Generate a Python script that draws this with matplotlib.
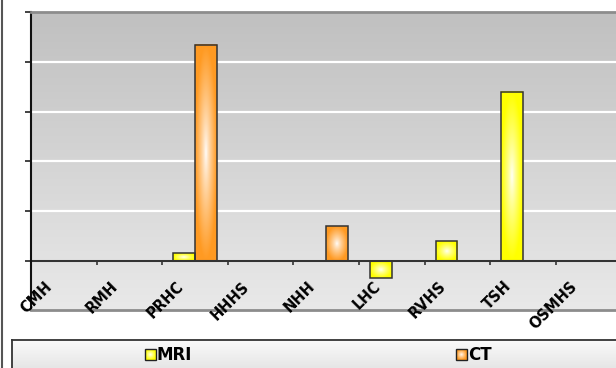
import numpy as np
import matplotlib
matplotlib.use("Agg")
import matplotlib.pyplot as plt
from matplotlib.patches import Rectangle
from matplotlib.lines import Line2D
from matplotlib.colors import to_rgb

# ---- data -------------------------------------------------------------
hospitals = ["CMH", "RMH", "PRHC", "HHHS", "NHH", "LHC", "RVHS", "TSH", "OSMHS"]
mri = [np.nan, np.nan, 0.16, np.nan, np.nan, -0.34, 0.40, 3.40, np.nan]
ct = [np.nan, np.nan, 4.34, np.nan, 0.70, np.nan, np.nan, np.nan, np.nan]
series_names = ["MRI", "CT"]
series_values = [mri, ct]
series_colors = ["#ffff00", "#ff9a22"]
y_ticks = [0, 1, 2, 3, 4, 5]
y_range = (-0.98, 5)

# ---- canvas -----------------------------------------------------------
W, H = 616, 368
fig = plt.figure(figsize=(W / 100, H / 100), dpi=100)
fig.patch.set_facecolor("white")


def px_box(x0, y0, x1, y1):
    """Pixel box (origin top-left) -> figure-fraction rectangle."""
    return [x0 / W, 1 - y1 / H, (x1 - x0) / W, (y1 - y0) / H]


def radial_fill(ax, x0, x1, y0, y1, color, zorder=2, edge="#333333", lw=1.1):
    """Rectangle filled white at its centre, fading to `color` at the rim."""
    n = 80
    yy, xx = np.mgrid[-1:1:n * 1j, -1:1:n * 1j]
    t = np.clip(np.sqrt(xx ** 2 + yy ** 2), 0, 1) ** 0.8
    base = np.array(to_rgb(color))
    img = (1 - t)[..., None] * np.ones(3) + t[..., None] * base
    ax.imshow(img, extent=[x0, x1, y0, y1], aspect="auto", zorder=zorder,
              interpolation="bilinear")
    ax.add_patch(Rectangle((min(x0, x1), min(y0, y1)), abs(x1 - x0), abs(y1 - y0),
                           fill=False, edgecolor=edge, lw=lw, zorder=zorder + 1))


# ---- plot area --------------------------------------------------------
ax = fig.add_axes(px_box(31, 12, 621.4, 310))
ax.set_autoscale_on(False)
ncat = len(hospitals)
xlim = (-0.5, ncat - 0.5)

# vertical background gradient
g = np.linspace(0, 1, 256)[:, None, None]
top_c = np.array([192, 192, 192]) / 255
bot_c = np.array([233, 233, 233]) / 255
bg = top_c + (bot_c - top_c) * g
ax.imshow(bg, extent=[xlim[0], xlim[1], y_range[0], y_range[1]], aspect="auto",
          origin="upper", zorder=0, interpolation="bilinear")

ax.set_yticks(y_ticks)
ax.yaxis.grid(True, color="white", lw=1.6)
ax.set_axisbelow(True)
ax.tick_params(axis="y", direction="out", length=4, width=1.2, color="#222222",
               labelleft=False)
ax.set_xticks([])

# bars
bar_w = 0.328
for s, (vals, col) in enumerate(zip(series_values, series_colors)):
    for i, v in enumerate(vals):
        if np.isnan(v):
            continue
        x0 = i - bar_w if s == 0 else i
        radial_fill(ax, x0, x0 + bar_w, 0, v, col, zorder=2)

# category axis at zero
ax.axhline(0, color="#333333", lw=1.5, zorder=2.5)
ax.vlines(np.arange(0.5, ncat - 0.5, 1), -0.085, 0, color="#333333", lw=1.2, zorder=2.5)
for i, name in enumerate(hospitals):
    ax.text(i - 0.13, -0.35, name, rotation=45, ha="right", va="top",
            fontsize=10.5, fontweight="bold", color="black", clip_on=False, zorder=5)

for side in ("top", "bottom"):
    ax.spines[side].set_color("#8c8c8c")
    ax.spines[side].set_linewidth(2)
ax.spines["right"].set_visible(False)
ax.spines["left"].set_color("#111111")
ax.spines["left"].set_linewidth(1.5)

ax.set_xlim(*xlim)
ax.set_ylim(*y_range)

# ---- legend panel -----------------------------------------------------
lax = fig.add_axes(px_box(12, 340, 630, 390))
lax.set_autoscale_on(False)
lg = np.linspace(0, 1, 64)[:, None, None]
l_top = np.array([250, 250, 250]) / 255
l_bot = np.array([214, 214, 214]) / 255
lax.imshow(l_top + (l_bot - l_top) * lg, extent=[12, 630, 390, 340], aspect="auto",
           origin="upper", zorder=0, interpolation="bilinear")
lax.set_xticks([])
lax.set_yticks([])
for sp in lax.spines.values():
    sp.set_color("#333333")
    sp.set_linewidth(1.3)

legend_x = [145, 456]
for name, col, lx in zip(series_names, series_colors, legend_x):
    radial_fill(lax, lx, lx + 11, 349, 360, col, zorder=2, edge="#222222", lw=1.0)
    lax.text(lx + 12, 355, name, ha="left", va="center", fontsize=12,
             fontweight="bold", color="black", zorder=4)
lax.set_xlim(12, 630)
lax.set_ylim(390, 340)

# outer panel border
fig.add_artist(Line2D([1.5 / W, 1.5 / W], [0, 1], transform=fig.transFigure,
                      color="#555555", lw=1.5))

fig.savefig("out.png", dpi=100)
